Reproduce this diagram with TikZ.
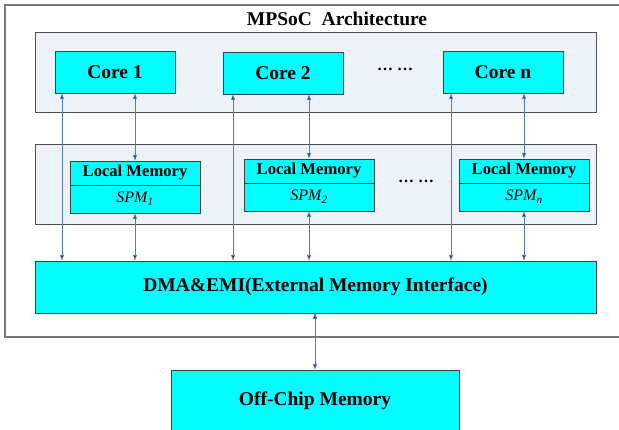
\documentclass[tikz,border=0pt]{standalone}
\usepackage{fontspec}
\setmainfont{Liberation Serif}
\usetikzlibrary{arrows.meta}
\definecolor{chipcyan}{RGB}{0,255,255}
\definecolor{panelgray}{RGB}{237,241,248}
\definecolor{linkblue}{RGB}{79,124,196}
\definecolor{framegray}{RGB}{120,120,120}

\begin{document}
\begin{tikzpicture}[x=1pt,y=-1pt,>={Latex[length=6pt,width=4.5pt]},
  unit/.style={draw=black!75,fill=chipcyan,line width=0.9pt,inner sep=0pt,outer sep=0pt,font=\bfseries\fontsize{19.5}{21}\selectfont},
  core/.style={unit,minimum width=120pt,minimum height=42pt},
  panel/.style={draw=black!70,fill=panelgray,line width=1pt,inner sep=0pt,minimum width=561pt,minimum height=80pt},
  memhead/.style={unit,minimum width=130pt,minimum height=24pt,font=\bfseries\fontsize{16.6}{18}\selectfont},
  memspm/.style={unit,minimum width=130pt,minimum height=28pt,font=\itshape\fontsize{16}{18}\selectfont},
  dots/.style={font=\bfseries\fontsize{16}{18}\selectfont},
  link/.style={<->,draw=linkblue,line width=0.9pt}]
  \useasboundingbox (0,0) rectangle (619,430);
  \clip (0,0) rectangle (619,430);

  % chip frame and title
  \draw[framegray,line width=1.2pt] (640,5) -- (5,5) -- (5,337) -- (640,337);
  \node[font=\bfseries\fontsize{19.5}{21}\selectfont] (title) at (337,19) {MPSoC\ \ Architecture};

  % cores
  \node[panel] (cpanel) at (315.5,73) {};
  \node[core] (c1) at (115,72) {Core 1};
  \node[core] (c2) at (283,73) {Core 2};
  \node[core] (cn) at (503,72) {Core n};
  \node[dots] (cdots) at (395,69) {\ldots\ \ldots};

  % local memories
  \node[panel] (mpanel) at (315.5,185) {};
  \node[memhead] (lm1) at (135,173) {Local Memory};
  \node[memspm,anchor=north] (spm1) at (lm1.south) {SPM\textsubscript{1}};
  \node[memhead] (lm2) at (309,171) {Local Memory};
  \node[memspm,anchor=north] (spm2) at (lm2.south) {SPM\textsubscript{2}};
  \node[memhead] (lmn) at (524,171) {Local Memory};
  \node[memspm,anchor=north] (spmn) at (lmn.south) {SPM\textsubscript{n}};
  \node[dots] (mdots) at (416,181) {\ldots\ \ldots};

  % interface and external memory
  \node[unit,minimum width=561pt,minimum height=52pt] (dma) at (315.5,287) {DMA\&EMI(External Memory Interface)};
  \node[unit,minimum width=288pt,minimum height=80pt] (off) at (315,410) {};
  \node[font=\bfseries\fontsize{19.5}{21}\selectfont] (offtext) at (315,401) {Off-Chip Memory};

  \coordinate (c1a) at ([xshift=7]c1.south west);
  \coordinate (c2a) at ([xshift=10]c2.south west);
  \coordinate (cna) at ([xshift=8]cn.south west);

\path[link]
  (c1a) edge (c1a |- dma.north)
  (c2a) edge (c2a |- dma.north)
  (cna) edge (cna |- dma.north)
  (c1.south -| lm1.north) edge (lm1.north)
  (c2.south -| lm2.north) edge (lm2.north)
  (cn.south -| lmn.north) edge (lmn.north)
  (spm1.south) edge (spm1.south |- dma.north)
  (spm2.south) edge (spm2.south |- dma.north)
  (spmn.south) edge (spmn.south |- dma.north)
  (dma.south -| off.north) edge (off.north)
;
\end{tikzpicture}
\end{document}
